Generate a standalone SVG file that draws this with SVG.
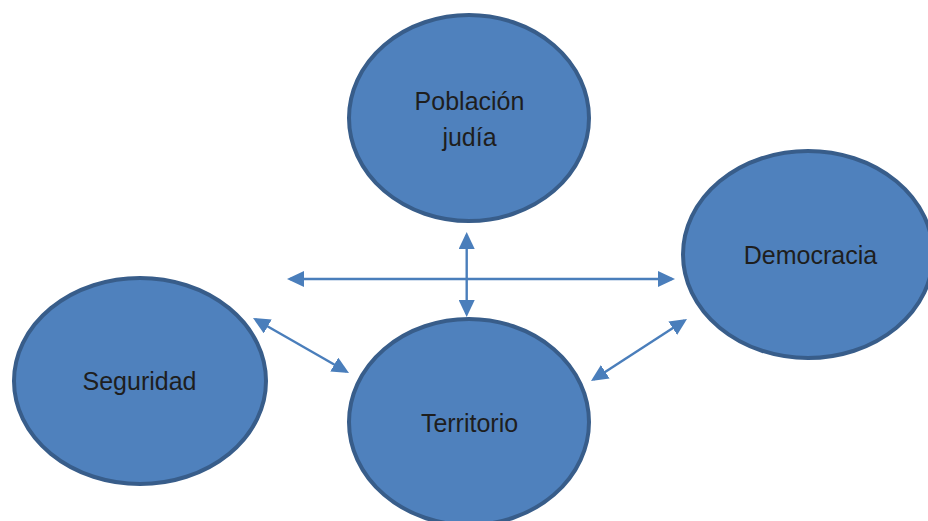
<svg xmlns="http://www.w3.org/2000/svg" width="928" height="521" viewBox="0 0 928 521">
<defs>
<style>
.node{fill:#4F81BD;stroke:#385D8A;stroke-width:4}
.lbl{font-family:"Liberation Sans",Arial,sans-serif;font-size:25px;fill:#1e1e1e;text-anchor:middle}
.conn{stroke:#4A7EBB;stroke-width:2.4;fill:none;marker-start:url(#ah);marker-end:url(#ah)}
</style>
<marker id="ah" markerUnits="userSpaceOnUse" markerWidth="17" markerHeight="16" refX="14" refY="8" orient="auto-start-reverse" viewBox="0 0 17 16">
<path d="M0,0 L17,8 L0,16 z" fill="#4A7EBB"/>
</marker>
</defs>
<rect width="928" height="521" fill="#ffffff"/>
<g id="poblacion">
<ellipse class="node" cx="469" cy="118" rx="120" ry="103"/>
<text class="lbl" x="469.5" y="110">Población</text>
<text class="lbl" x="469.5" y="146">judía</text>
</g>
<g id="democracia">
<ellipse class="node" cx="808" cy="254.5" rx="125" ry="103.5"/>
<text class="lbl" x="810.5" y="264">Democracia</text>
</g>
<g id="seguridad">
<ellipse class="node" cx="140" cy="381" rx="126" ry="103"/>
<text class="lbl" x="139.5" y="390">Seguridad</text>
</g>
<g id="territorio">
<ellipse class="node" cx="469" cy="422" rx="120" ry="103"/>
<text class="lbl" x="469.5" y="432">Territorio</text>
</g>
<g id="connectors">
<line class="conn" x1="290" y1="279" x2="672" y2="279"/>
<line class="conn" x1="466.7" y1="235" x2="466.7" y2="314"/>
<line class="conn" x1="255.6" y1="319.5" x2="346.4" y2="371.5"/>
<line class="conn" x1="684.5" y1="320.6" x2="593.5" y2="379.4"/>
</g>
</svg>
